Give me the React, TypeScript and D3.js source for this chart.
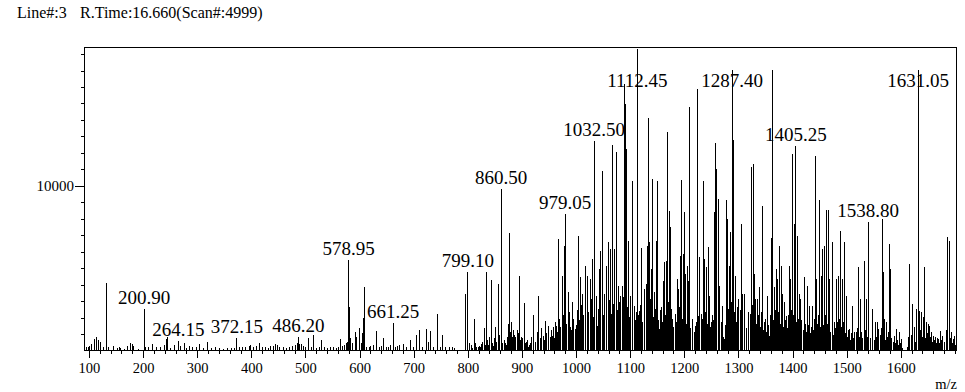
import React from 'react';
import * as d3 from 'd3';

const W = 965;
const H = 392;

const headerLeft = 'Line#:3';
const headerRight = 'R.Time:16.660(Scan#:4999)';
const xAxisTitle = 'm/z';
const xMajorTicks = [100, 200, 300, 400, 500, 600, 700, 800, 900, 1000, 1100, 1200, 1300, 1400, 1500, 1600];
const yLabelTicks = [10000];
const mzDomain: [number, number] = [90.8, 1702];
const intensityDomain: [number, number] = [0, 18400];

// [m/z, intensity]
const peaksLow: [number, number][] = [
  [94,260],[98,300],[100,360],[104,460],[109,770],[113,870],[117,670],[120,560],[125,300],[132,4140],[135,260],[145,360],[151,200],[155,250],[158,200],[165,150],[171,360],[175,500],[179,460],[182,350],[190,160],[203,260],[209,250],[217,460],[223,300],[231,250],[238,420],[241.5,770],[244.5,870],[250,200],[257,420],[269,330],[275,500],[280,200],[284,330],[291,250],[297,300],[303,460],[310,200],[318,560],[325,200],[333,250],[340,200],[348,150],[355,200],[362,220],[368,200],[378,250],[383,300],[389,250],[395,330],[398,400],[403,300],[408,330],[414,500],[420,250],[425,300],[430,200],[435,350],[440,330],[444.5,460],[447,400],[452,300],[458,250],[464,200],[470,300],[476,350],[480,420],[484,500],[488,480],[491,450],[496,330],[500,250],[505,850],[510,300],[514,980],[520,200],[525,300],[529.5,700],[535,250],[540,200],[545,300]
];

const peaksMid: [number, number][] = [
  [550,250],[556,200],[561,300],[563.5,730],[568,330],[572,400],[575,500],[577,600],[580.5,2700],[583,800],[586,500],[591,1180],[594,900],[599,1440],[602,500],[605,1100],[606.5,2040],[608.5,3900],[612,300],[617,300],[620,350],[624,400],[630,1240],[635,300],[639,350],[643.5,800],[648,300],[653,250],[656,400],[666,250],[670,350],[673,400],[680,450],[686,300],[692.5,700],[698,300],[705,980],[710,1280],[716,300],[723.5,1380],[726,550],[731,1220],[736,300],[743,2270],[748,300],[753,1000],[758,300],[765,250],[770,300],[775,200],[795.5,3500],[802,500],[806,400],[811.5,2000],[815,300],[820,350],[825,450],[829,1430],[834,4850],[838,400],[842,4350],[846,350],[850,1500],[855.5,4100],[864,500],[867,300],[871,400],[874,1660],[876,7200],[879,1800],[882,900],[886,1000],[891.5,1300],[894.5,4600],[898,600]
];

const peaksHigh: [number, number][] = [
  [903.5,2950],[907,600],[911,300],[915,500],[921,2200],[929.5,3390],[938.5,970],[942,1880],[948,1575],[955.5,970],[957.5,1515],[962,1575],[966.5,6830],[970,1375],[974,4600],[978,6424],[985,3600],[988,1470],[993,3000],[997.5,1375],[1003.5,7030],[1008,4500],[1011,3500],[1016,5210],[1020,4600],[1025,4400],[1029.5,5615],[1038.5,1575],[1041.5,5010],[1043.5,6120],[1047,10970],[1051,3390],[1054.5,5210],[1059,6625],[1062.5,6220],[1066.5,12525],[1069.5,6220],[1073,12140],[1077.5,4000],[1080.5,3390],[1084,4000],[1088.5,16220],[1091,15010],[1093,12280],[1096.5,6725],[1102.5,10360],[1106.5,2790],[1110,2400],
  [1117,2485],[1120,6260],[1125,3800],[1129,4100],[1131,6424],[1133,14200],[1135.5,6625],[1138.5,5010],[1141,10500],[1144.5,3600],[1147.5,6725],[1149.5,10360],[1153.5,1375],[1157,2690],[1160,4300],[1163,5414],[1166,5515],[1168,13330],[1171,8544],[1174,7535],[1177,1980],[1180,1375],[1186.5,4400],[1189,3800],[1192,5820],[1194,10425],[1197,5920],[1198.5,8444],[1201.5,4700],[1205,5210],[1207.5,4300],[1209,14847],[1213.5,770],[1219.5,1575],[1223,15918],[1225.5,2180],[1228,5720],[1230.5,2280],[1234.5,10363],[1237,5615],[1240,5110],[1243,6320],[1246.5,3390],[1249,1780],[1254,8444],[1256.5,12686],[1259,11070],[1261.5,9250],[1265,4000],[1269,2790],[1273.5,770],[1277,9210],[1279.5,8040],[1282.5,5210],[1284.5,7230],[1289.5,12850],[1294,4600],[1296.5,2690],[1299.5,3190],[1304,7740],[1307.5,3490],[1310,3490],[1318,2380],[1323,11230],[1326,11413],[1328.5,4700],[1331,3190],
  [1334.5,3190],[1337.5,3900],[1341,1980],[1344,8848],[1347,1780],[1353,3390],[1356,970],[1360,6870],[1362.5,17090],[1365.5,3900],[1368.5,5010],[1371.5,4400],[1374.5,6424],[1378,5210],[1381,3500],[1384,3000],[1388,2180],[1393,5210],[1396,4400],[1399.5,11980],[1402.5,7737],[1408.5,7030],[1411.5,3500],[1414.5,3190],[1421,4500],[1427,4000],[1430,2790],[1436,2790],[1441,11878],[1443.5,4400],[1448.5,9212],[1452,4600],[1454.5,6220],[1458,6424],[1462,8606],[1465,8606],[1468,4400],[1473,6625],[1477,1780],[1480.5,4400],[1484,4600],[1488,7333],[1491.5,4400],[1495.5,6626],[1499,3390],[1504,1375],[1510,2790],[1516.5,1170],[1521,5110],[1525.5,3190],[1531.5,5515],[1536,3190],[1546,2590],
  [1552.5,1780],[1555.5,1780],[1558.5,1375],[1564.5,8040],[1566.5,4810],[1569.5,1980],[1573,1780],[1577,1170],[1579,6525],[1580.5,5010],[1587.5,970],[1591,1375],[1597.5,1170],[1600.5,770],[1616,5313],[1620,2890],[1623.5,1475],[1629,2590],[1634.5,2485],[1637.5,2380],[1640.5,2080],[1643.5,5110],[1646.5,1780],[1649.5,1680],[1653,1575],[1655.5,1170],[1659,970],[1663,870],[1669.5,770],[1672.5,1270],[1675.5,970],[1685,6930],[1688.5,6727],[1692,1170],[1696,770],[1698.5,970]
];

const peaksBase: [number, number][] = [
  [803,300],[808,200],[813,500],[818,250],[823,300],[827,600],[831,400],[836,700],[840,900],[844,500],[848,800],[852,600],[858,1000],[862,800],[866,700],[869,500],[872,900],[878,1200],[881,700],[884,1300],[888,900],[893,1100],[896,700],[899,900],
  [901,800],[905,500],[909,700],[913,400],[917,900],[925,600],[927,1200],[933,800],[936,1400],[940,700],[945,1100],[951,900],[953,1300],[959,800],[961,1800],[964,1200],[968,2000],[971,1500],[976,2200],[982,1700],[987,2400],[990,1300],[995,2000],[999,1600],[1001,2500],[1005,1900],[1010,2800],[1013,2200],[1017,3000],[1022,2400],[1027,3200],[1031,2100],[1036,3400],[1040,2600],[1045,3000],[1049,2200],[1052,3500],[1056,2700],[1060,3100],[1064,2300],[1068,2900],[1071,3600],[1075,2500],[1079,3000],[1082,2200],[1086,3300],[1094,2700],[1098,2100],[1100,3400],[1104,2500],[1108,1900],
  [1114,2200],[1118,2800],[1122,1800],[1126,3000],[1134,2400],[1137,3200],[1142,2100],[1146,2600],[1151,1900],[1155,2500],[1158,1800],[1161,2900],[1165,2200],[1169,3000],[1173,2000],[1176,2600],[1179,1500],[1183,2300],[1185,1800],[1190,2700],[1195,2000],[1200,2500],[1203,1700],[1206,2800],[1211,1400],[1215,2000],[1217,1200],[1221,1800],[1227,2600],[1232,2000],[1238,2400],[1241,1700],[1245,2800],[1248,1500],[1251,2200],[1253,1900],[1258,3000],[1263,2200],[1267,1800],[1270,1400],[1272,900],[1276,1600],[1280,2600],[1283,2000],[1286,3000],[1291,2400],[1295,1800],[1297,2200],[1300,1500],[1303,2500],[1306,1700],[1311,2000],[1314,1400],[1317,1800],[1322,2300],[1325,2800],[1329,2000],
  [1333,1700],[1336,2200],[1339,1500],[1342,2400],[1345,1300],[1349,2000],[1351,1200],[1355,1600],[1358,2200],[1361,2700],[1364,1900],[1367,2500],[1370,1800],[1373,2400],[1376,1700],[1379,2200],[1382,1500],[1386,1900],[1390,1400],[1392,2200],[1395,1700],[1398,2500],[1401,2200],[1404,2600],[1407,1800],[1410,2000],[1413,1500],[1416,1900],[1419,1300],[1423,1700],[1425,1200],[1429,1600],[1432,1100],[1434,1500],[1438,1300],[1440,2000],[1445,1700],[1447,2200],[1450,1500],[1453,2000],[1456,1600],[1460,2200],[1463,1700],[1467,1500],[1470,1200],[1472,1700],[1475,1000],[1478,1400],[1482,1800],[1486,2000],[1490,1500],[1493,1800],[1497,1100],
  [1501,900],[1503,1300],[1506,700],[1508,1100],[1512,800],[1514,1200],[1518,700],[1520,1400],[1523,900],[1527,1200],[1529,800],[1533,1300],[1537,900],[1540,1500],[1543,800],[1547,1100],[1550,700],[1554,900],[1557,600],[1561,1000],[1563,1400],[1568,1200],[1571,700],[1575,900],[1578,1300],[1582,800],[1585,600],[1589,500],[1593,700],[1595,400],[1599,500],[1603,200],[1612,300],[1614,900],[1618,1000],[1621,700],[1626,600],[1628,1200],[1633,1000],[1636,1300],[1639,900],[1642,1500],[1645,800],[1648,1100],[1651,700],[1654,900],[1657,600],[1661,700],[1665,500],[1667,800],[1671,500],[1674,700],[1677,400],[1680,600],[1683,1300],[1686,1500],[1690,800],[1694,500],[1697,700],[1700,400]
];

// labelled peaks: [m/z, intensity]
const labeledPeaks: [number, number][] = [
  [200.90,2600],[264.15,620],[372.15,830],[486.20,870],[578.95,5575],[661.25,1715],[799.10,4800],[860.50,9860],[979.05,8340],[1032.50,12787],[1112.45,19500],[1287.40,17070],[1405.25,12500],[1538.80,7840],[1631.05,17090]
];

const SERIF = '"Liberation Serif", "Times New Roman", serif';

export default function App() {
  const left = 84.5, right = 956.5, top = 47.5, bottom = 350.5;
  const x = d3.scaleLinear().domain(mzDomain).range([left, right]);
  const y = d3.scaleLinear().domain(intensityDomain).range([bottom, top]).clamp(true);

  const all = [...peaksBase, ...peaksLow, ...peaksMid, ...peaksHigh, ...labeledPeaks];
  const px = (v: number) => Math.round(x(v) - 0.5) + 0.5;

  const minorX = d3.range(100, 1701, 20).filter((v) => v % 100 !== 0 || v > 1600);
  const minorY = d3.range(1000, 18001, 1000).filter((v) => !yLabelTicks.includes(v));

  return (
    <svg width={W} height={H} style={{ position: 'absolute', left: 0, top: 0, background: '#fff' }} fontFamily={SERIF}>
      <rect x={0} y={0} width={W} height={H} fill="#fff" />
      <text x={17} y={18} fontSize={16} fill="#000">{headerLeft}</text>
      <text x={80} y={18} fontSize={16} fill="#000">{headerRight}</text>

      <g stroke="#000" strokeWidth={1} shapeRendering="crispEdges">
        {all.map(([m, v], i) => (
          <line key={i} x1={px(m)} x2={px(m)} y1={bottom} y2={Math.round(y(v)) + 0.5} />
        ))}
      </g>

      <rect x={left} y={top} width={right - left} height={bottom - top} fill="none" stroke="#000" strokeWidth={1} shapeRendering="crispEdges" />

      <g stroke="#000" strokeWidth={1} shapeRendering="crispEdges">
        {xMajorTicks.map((t) => (
          <line key={'xm' + t} x1={px(t)} x2={px(t)} y1={bottom} y2={bottom + 7} />
        ))}
        {minorX.map((t) => (
          <line key={'xn' + t} x1={px(t)} x2={px(t)} y1={bottom} y2={bottom + 3.5} />
        ))}
        {yLabelTicks.map((t) => (
          <line key={'ym' + t} x1={left - 10} x2={left} y1={Math.round(y(t)) + 0.5} y2={Math.round(y(t)) + 0.5} />
        ))}
        {minorY.map((t) => (
          <line key={'yn' + t} x1={left - 3.5} x2={left} y1={Math.round(y(t)) + 0.5} y2={Math.round(y(t)) + 0.5} />
        ))}
      </g>

      <g fontSize={14.5} fill="#000" textAnchor="middle">
        {xMajorTicks.map((t) => (
          <text key={'xl' + t} x={x(t)} y={373}>{t}</text>
        ))}
      </g>
      {yLabelTicks.map((t) => (
        <text key={'yl' + t} x={74} y={y(t) + 5} fontSize={15} textAnchor="end" fill="#000">{t}</text>
      ))}
      <text x={957} y={389} fontSize={14.5} textAnchor="end" fill="#000">{xAxisTitle}</text>

      <g fontSize={19} fill="#000" textAnchor="middle">
        {labeledPeaks.map(([m, v]) => (
          <text key={'pl' + m} x={x(m)} y={Math.max(y(v) - 4, 87)}>{m.toFixed(2)}</text>
        ))}
      </g>
    </svg>
  );
}
